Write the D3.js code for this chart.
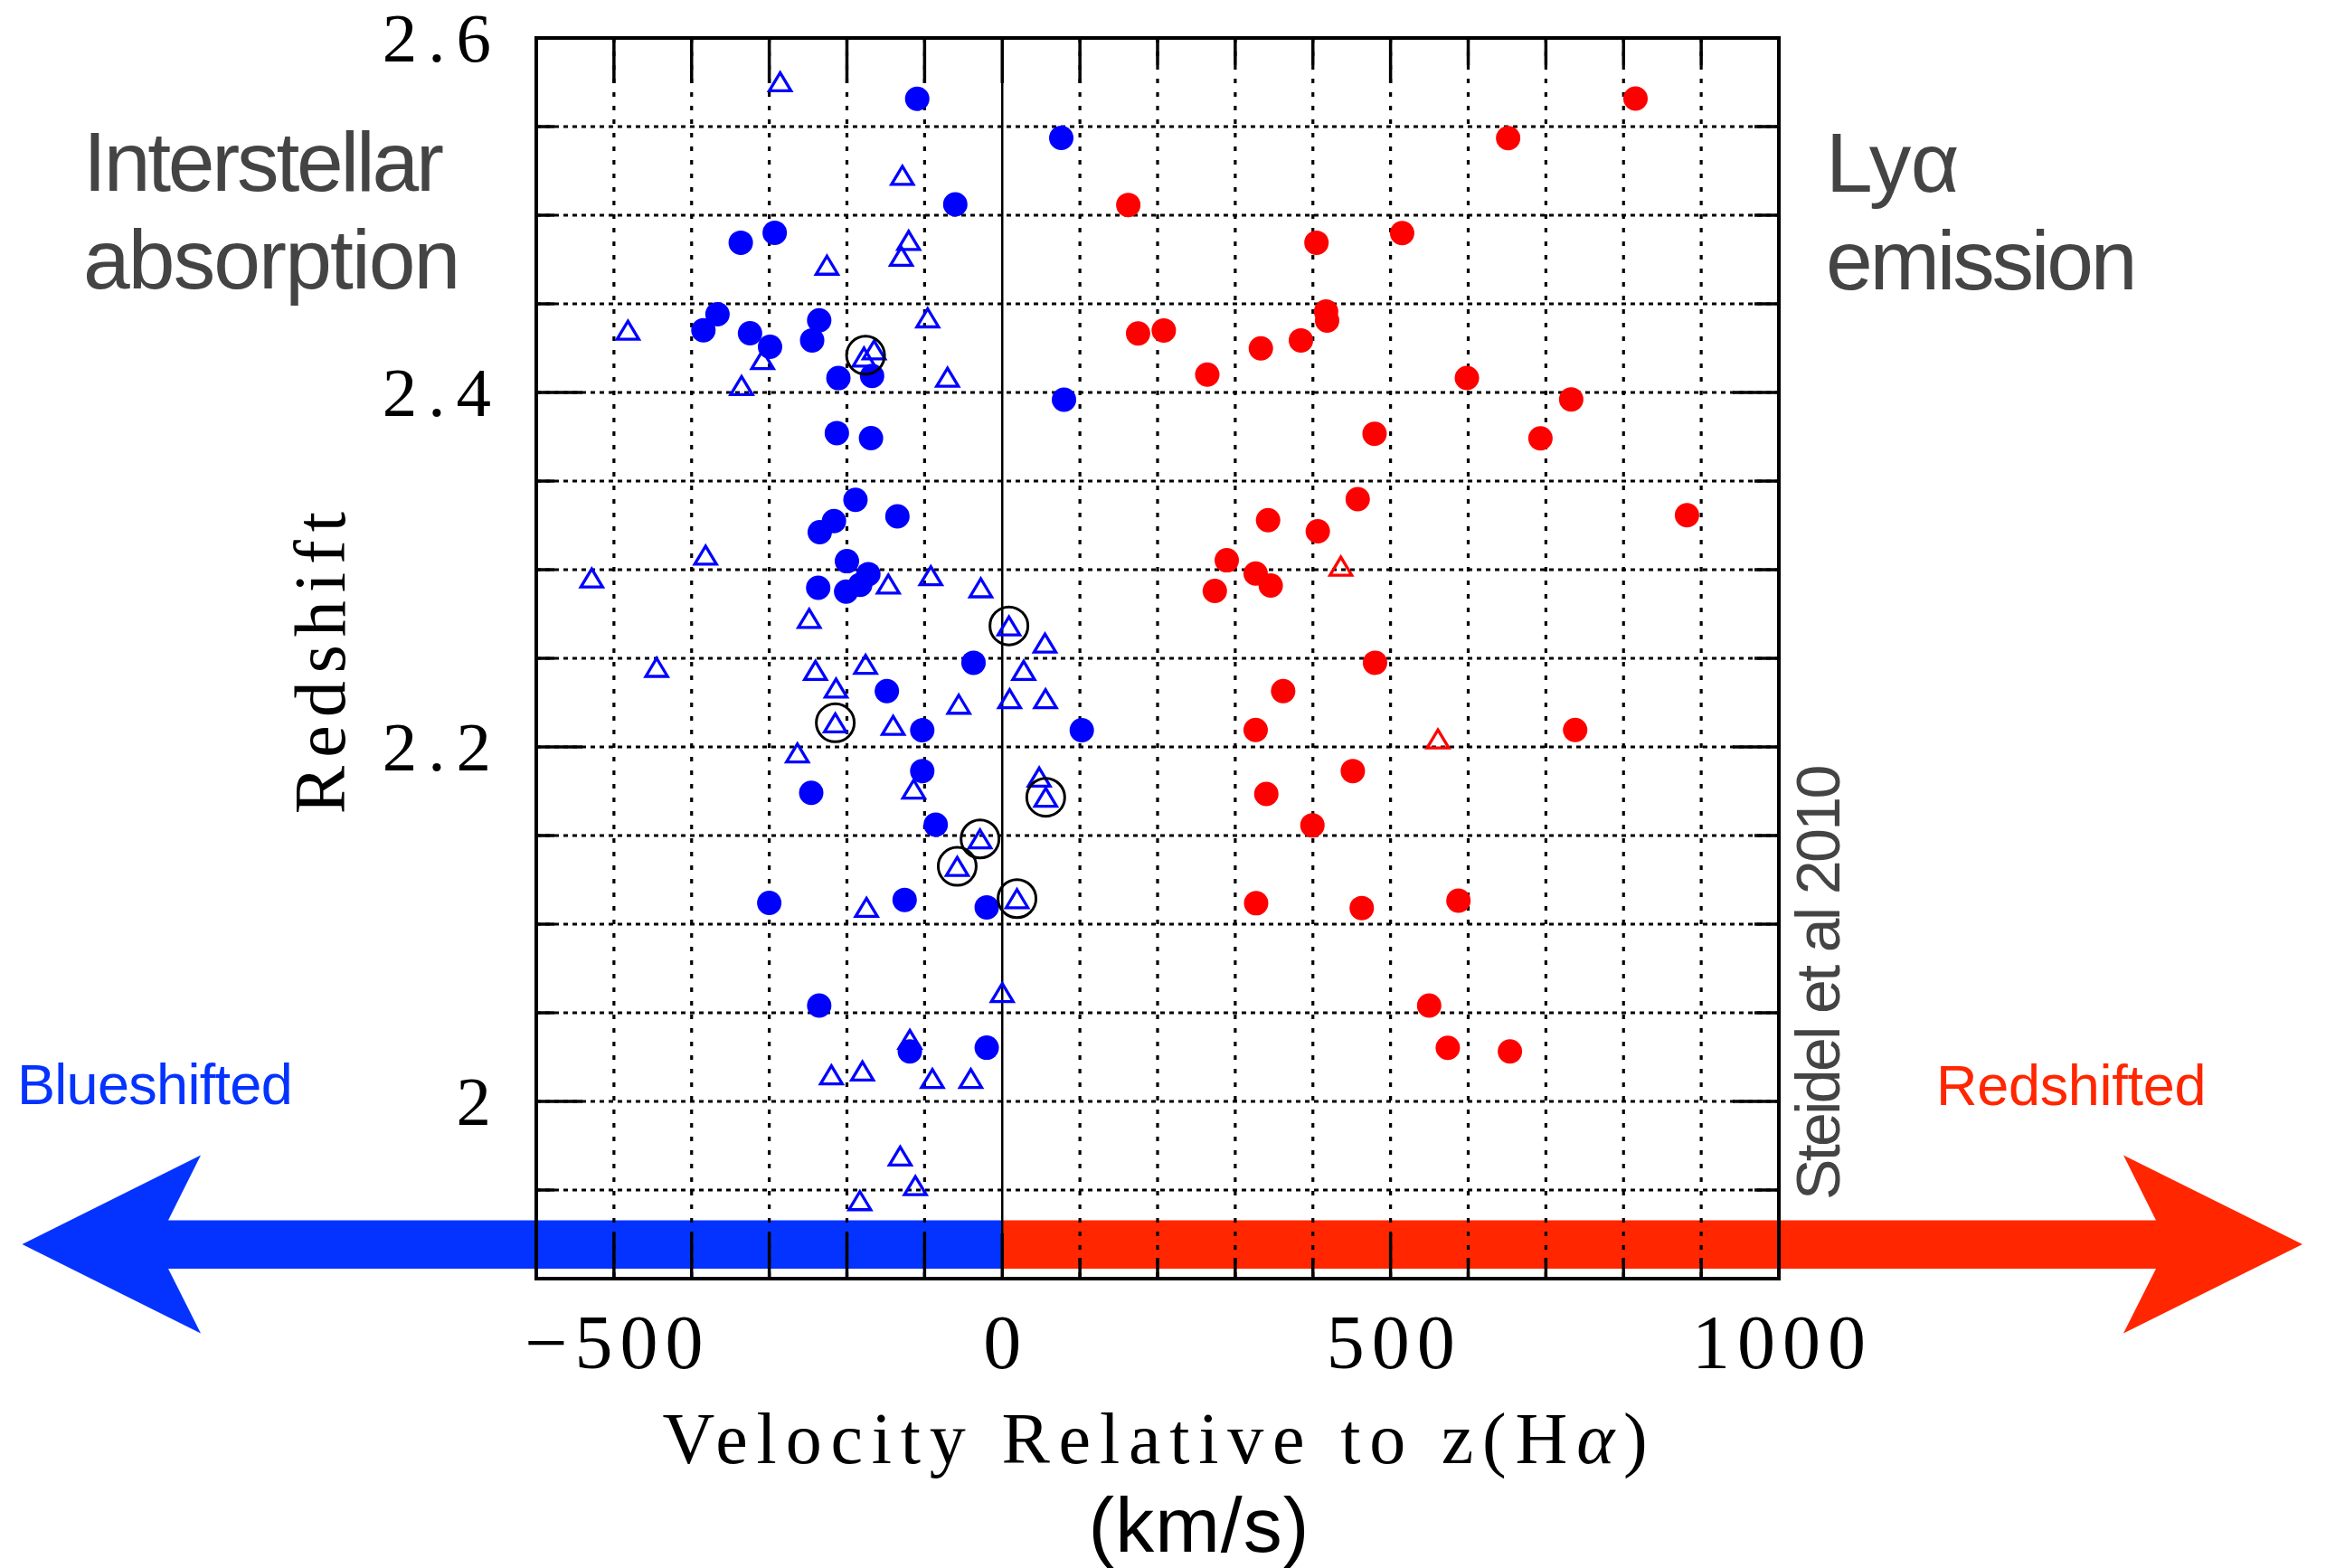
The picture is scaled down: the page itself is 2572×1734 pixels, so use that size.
<!DOCTYPE html>
<html><head><meta charset="utf-8">
<script src="https://cdn.jsdelivr.net/npm/d3@7"></script>
<style>html,body{margin:0;padding:0;background:#fff;} svg{display:block}</style>
</head><body>
<script>
// ---------------- DATA ----------------
// Interstellar absorption, filled blue circles: velocity (km/s), redshift
const absFilledV = [-109.5, 76, -60.5, -293, -336.7, -366.7, -384.8, -324.8, -299, -235.7, -244.8,
  -211, -167.6, 79.5, -213, -169, -189, -135, -216.7, -235, -200, -172.4, -182.9, -237, -201, -37,
  -148.6, -103, 102.4, -103, -246, -85.7, -300, -125.7, -20, -235.7, -119, -20];
const absFilledZ = [2.5657, 2.5436, 2.5061, 2.4901, 2.4845, 2.4441, 2.4351, 2.4334, 2.4258, 2.4407, 2.4294,
  2.4081, 2.4093, 2.3959, 2.3771, 2.3742, 2.3394, 2.3301, 2.3274, 2.3212, 2.3048, 2.2975, 2.2915, 2.2898, 2.2876, 2.2475,
  2.2315, 2.2094, 2.2094, 2.1864, 2.1741, 2.1561, 2.1120, 2.1137, 2.1095, 2.0541, 2.0282, 2.0303];
// Interstellar absorption, open blue triangles
const absOpenV = [-286, -128.6, -120.5, -130, -225.7, -482, -96, -308.6, -178, -165, -335.7, -70.5,
  -382, -528.6, -146.7, -92, -27.6, -248.6, 8.6, 55, -445, -240.5, -176, 27.6, -214, 9.5, 55.7, -56,
  -215, -140.5, -263.8, -114, 47.6, 56, -28.6, -58, -174.8, 19, 0, -119, -220, -180, -90, -40.5,
  -131.4, -111.9, -183.3];
const absOpenZ = [2.5753, 2.5225, 2.4858, 2.4768, 2.4718, 2.4351, 2.4421, 2.4186, 2.4200, 2.4240, 2.4039, 2.4086,
  2.3082, 2.2953, 2.2919, 2.2966, 2.2898, 2.2725, 2.2683, 2.2586, 2.2449, 2.2432, 2.2466, 2.2432, 2.2332, 2.2272, 2.2272, 2.2241,
  2.2136, 2.2122, 2.1966, 2.1762, 2.1830, 2.1716, 2.1481, 2.1326, 2.1095, 2.1144, 2.0614, 2.0350, 2.0150, 2.0172, 2.0129, 2.0129,
  1.9692, 1.9525, 1.9440];
// Black open rings around selected objects
const ringV = [-176, 8.6, -215, 56, -28.6, -58, 19];
const ringZ = [2.421, 2.2683, 2.2136, 2.1716, 2.1481, 2.1326, 2.1144];
// Lya emission, filled red circles
const lyaFilledV = [815.4, 651.4, 162.3, 404.6, 514.9, 417, 418.3, 174.9, 208, 333, 384.6, 264, 598.3, 732.6,
  479.4, 693, 457.7, 881.7, 342.3, 406.3, 289.1, 326.3, 345.7, 273.7, 480, 361.7, 326.3, 737.7, 451.4,
  340, 399.4, 326.9, 462.9, 587.4, 549.7, 573.7, 653.7];
const lyaFilledZ = [2.5658, 2.5435, 2.5058, 2.4845, 2.4899, 2.4457, 2.4406, 2.4333, 2.4350, 2.4249, 2.4294, 2.4101, 2.4082, 2.3961,
  2.3767, 2.3741, 2.3398, 2.3307, 2.3279, 2.3217, 2.3053, 2.2978, 2.2911, 2.2880, 2.2475, 2.2315, 2.2096, 2.2096, 2.1864,
  2.1735, 2.1558, 2.1118, 2.1091, 2.1133, 2.0541, 2.0302, 2.0282];
// Lya emission, open red triangles
const lyaOpenV = [436, 561];
const lyaOpenZ = [2.302, 2.2045];

// Axis ticks / labels
const xDomain = [-600, 1000];
const yDomain = [1.9, 2.6];
const xMajorTicks = [-500, 0, 500, 1000];
const xTickLabels = ["\u2212500", "0", "500", "1000"];
const yMajorTicks = [2.0, 2.2, 2.4, 2.6];
const yTickLabels = ["2", "2.2", "2.4", "2.6"];
const xMinorStep = 100;
const yMinorStep = 0.05;

// ---------------- LAYOUT ----------------
const W = 2572, H = 1734;
const P = {left: 593, right: 1967, top: 42, bottom: 1414};
const x = d3.scaleLinear().domain(xDomain).range([P.left, P.right]);
const y = d3.scaleLinear().domain(yDomain).range([P.bottom, P.top]);

const BLUE_PT = "#0000ff", RED_PT = "#ff0000";
const BLUE_AR = "#0433ff", RED_AR = "#ff2600";
const GRAY = "#444444";
const SERIF = "'Liberation Serif', 'DejaVu Serif', serif";
const SANS = "'Liberation Sans', Arial, Helvetica, sans-serif";

const svg = d3.select("body").append("svg").attr("width", W).attr("height", H);

// ---------------- ARROW BAND ----------------
const band = {top: 1349.5, bot: 1403, headTop: 1277.5, headBot: 1474.5, mid: 1376};
const leftArrow = {tip: 24.5, back: 222, inner: 186};
const rightArrow = {tip: 2546, back: 2348, inner: 2384};
const x0 = x(0);
svg.append("path").attr("fill", BLUE_AR).attr("d", d3.line()([
  [leftArrow.inner, band.top], [x0, band.top], [x0, band.bot], [leftArrow.inner, band.bot],
  [leftArrow.back, band.headBot], [leftArrow.tip, band.mid], [leftArrow.back, band.headTop]
]) + "Z");
svg.append("path").attr("fill", RED_AR).attr("d", d3.line()([
  [x0, band.top], [rightArrow.inner, band.top], [rightArrow.back, band.headTop], [rightArrow.tip, band.mid],
  [rightArrow.back, band.headBot], [rightArrow.inner, band.bot], [x0, band.bot]
]) + "Z");

// ---------------- GRID ----------------
const xGrid = d3.range(xDomain[0] + xMinorStep, xDomain[1] - 1, xMinorStep);
const yGrid = d3.range(1, 14).map(i => +(yDomain[0] + i * yMinorStep).toFixed(3));
const g = svg.append("g");
g.selectAll(".vg").data(xGrid.filter(v => v !== 0)).join("line")
  .attr("x1", d => x(d)).attr("x2", d => x(d)).attr("y1", P.top).attr("y2", P.bottom)
  .attr("stroke", "#000").attr("stroke-width", 3.2).attr("stroke-dasharray", "5,10");
g.selectAll(".hg").data(yGrid).join("line")
  .attr("x1", P.left).attr("x2", P.right).attr("y1", d => y(d)).attr("y2", d => y(d))
  .attr("stroke", "#000").attr("stroke-width", 3).attr("stroke-dasharray", "5,5");
// zero line
g.append("line").attr("x1", x0).attr("x2", x0).attr("y1", P.top).attr("y2", P.bottom)
  .attr("stroke", "#000").attr("stroke-width", 2.5);

// ---------------- TICKS ----------------
const xTickAll = d3.range(xDomain[0] + xMinorStep, xDomain[1] + 1, xMinorStep).filter(v => v < xDomain[1]);
const isXMajor = v => xMajorTicks.includes(v);
const ticks = svg.append("g").attr("stroke", "#000").attr("stroke-width", 3.5);
xTickAll.forEach(v => {
  const topLen = (isXMajor(v) || v <= 100) ? 50 : 30;
  const botLen = (isXMajor(v) || v <= 0) ? 50 : 23;
  ticks.append("line").attr("x1", x(v)).attr("x2", x(v)).attr("y1", P.top).attr("y2", P.top + topLen);
  ticks.append("line").attr("x1", x(v)).attr("x2", x(v)).attr("y1", P.bottom).attr("y2", P.bottom - botLen);
});
const isYMajor = v => yMajorTicks.some(m => Math.abs(m - v) < 1e-6);
yGrid.forEach(v => {
  const lenL = isYMajor(v) ? 51 : 20;
  const lenR = isYMajor(v) ? 51 : 27;
  ticks.append("line").attr("x1", P.left).attr("x2", P.left + lenL).attr("y1", y(v)).attr("y2", y(v));
  ticks.append("line").attr("x1", P.right).attr("x2", P.right - lenR).attr("y1", y(v)).attr("y2", y(v));
});

// frame
svg.append("rect").attr("x", P.left).attr("y", P.top).attr("width", P.right - P.left).attr("height", P.bottom - P.top)
  .attr("fill", "none").attr("stroke", "#000").attr("stroke-width", 4);

// ---------------- POINTS ----------------
const triPath = "M0,-10L12,10L-12,10Z";
const pts = svg.append("g");
pts.selectAll(".bf").data(absFilledV.map((v, i) => [v, absFilledZ[i]])).join("circle")
  .attr("cx", d => x(d[0])).attr("cy", d => y(d[1])).attr("r", 13.5).attr("fill", BLUE_PT);
pts.selectAll(".bt").data(absOpenV.map((v, i) => [v, absOpenZ[i]])).join("path")
  .attr("transform", d => `translate(${x(d[0])},${y(d[1])})`).attr("d", triPath)
  .attr("fill", "none").attr("stroke", BLUE_PT).attr("stroke-width", 3.3);
pts.selectAll(".rf").data(lyaFilledV.map((v, i) => [v, lyaFilledZ[i]])).join("circle")
  .attr("cx", d => x(d[0])).attr("cy", d => y(d[1])).attr("r", 13.5).attr("fill", RED_PT);
pts.selectAll(".rt").data(lyaOpenV.map((v, i) => [v, lyaOpenZ[i]])).join("path")
  .attr("transform", d => `translate(${x(d[0])},${y(d[1])})`).attr("d", triPath)
  .attr("fill", "none").attr("stroke", RED_PT).attr("stroke-width", 3.3);
pts.selectAll(".ring").data(ringV.map((v, i) => [v, ringZ[i]])).join("circle")
  .attr("cx", d => x(d[0])).attr("cy", d => y(d[1])).attr("r", 21)
  .attr("fill", "none").attr("stroke", "#000").attr("stroke-width", 3);

// ---------------- TEXT ----------------
const yl = svg.append("g").attr("font-family", SERIF).attr("font-size", 77).attr("fill", "#000")
  .attr("letter-spacing", 12).attr("text-anchor", "end");
yMajorTicks.forEach((v, i) => {
  yl.append("text").attr("x", 555).attr("y", y(v) + 26).text(yTickLabels[i]);
});
const xl = svg.append("g").attr("font-family", SERIF).attr("font-size", 84).attr("fill", "#000")
  .attr("letter-spacing", 8).attr("text-anchor", "middle");
xMajorTicks.forEach((v, i) => {
  xl.append("text").attr("x", x(v) + 4).attr("y", 1513).text(xTickLabels[i]);
});

// axis titles
svg.append("text").attr("transform", "translate(381,728.6) rotate(-90)")
  .attr("font-family", SERIF).attr("font-size", 80).attr("letter-spacing", 9)
  .attr("text-anchor", "middle").attr("fill", "#000").text("Redshift");
const xt = svg.append("text").attr("x", (P.left + P.right) / 2 + 2).attr("y", 1618)
  .attr("font-family", SERIF).attr("font-size", 80).attr("letter-spacing", 9.8)
  .attr("text-anchor", "middle").attr("fill", "#000");
xt.append("tspan").text("Velocity Relative to z(H");
xt.append("tspan").attr("font-style", "italic").text("\u03B1");
xt.append("tspan").text(")");
svg.append("text").attr("x", 1326).attr("y", 1716).attr("font-family", SANS).attr("font-size", 86)
  .attr("letter-spacing", 1).attr("text-anchor", "middle").attr("fill", "#000").text("(km/s)");

// annotations
const ann = svg.append("g").attr("font-family", SANS).attr("fill", GRAY).attr("font-size", 93);
ann.append("text").attr("x", 92).attr("y", 210.5).attr("letter-spacing", -3.2).text("Interstellar");
ann.append("text").attr("x", 92).attr("y", 319).attr("letter-spacing", -1.9).text("absorption");
ann.append("text").attr("x", 2019).attr("y", 212).attr("letter-spacing", -0.5).text("Ly\u03B1");
ann.append("text").attr("x", 2019).attr("y", 320).attr("letter-spacing", -3.2).text("emission");

svg.append("text").attr("x", 19).attr("y", 1221).attr("font-family", SANS).attr("font-size", 63)
  .attr("letter-spacing", -0.7).attr("fill", BLUE_AR).text("Blueshifted");
svg.append("text").attr("x", 2141).attr("y", 1222).attr("font-family", SANS).attr("font-size", 63)
  .attr("letter-spacing", -0.3).attr("fill", RED_AR).text("Redshifted");
svg.append("text").attr("transform", "translate(2034,1327) rotate(-90)").attr("font-family", SANS)
  .attr("font-size", 68).attr("letter-spacing", -2.6).attr("fill", GRAY).text("Steidel et al 2010");
</script>
</body></html>
